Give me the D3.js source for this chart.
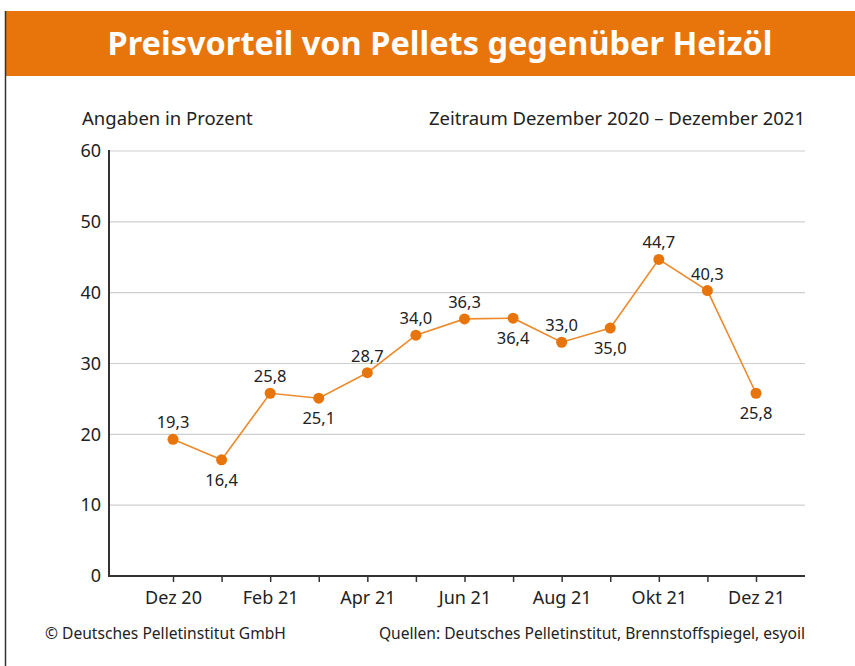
<!DOCTYPE html>
<meta charset="utf-8">
<style>
body { margin: 0; background: #fff; }
svg { display: block; font-family: "Noto Sans", "Open Sans", sans-serif; }
.grid line { stroke: #cfcfcf; stroke-width: 1.2; }
.lbl { font-size: 16.5px; fill: #222; }
</style>
<body>
<svg width="855" height="666"></svg>
<script src="https://d3js.org/d3.v7.min.js"></script>
<script>
// months and values (Preisvorteil in %)
const months = ["Dez 20", "Jan 21", "Feb 21", "Mär 21", "Apr 21", "Mai 21", "Jun 21",
                "Jul 21", "Aug 21", "Sep 21", "Okt 21", "Nov 21", "Dez 21"];
const values = [19.3, 16.4, 25.8, 25.1, 28.7, 34.0, 36.3, 36.4, 33.0, 35.0, 44.7, 40.3, 25.8];
const labelSide = ["up", "down", "up", "down", "up", "up", "up", "down", "up", "down", "up", "up", "down"];
const yTicks = [0, 10, 20, 30, 40, 50, 60];

const svg = d3.select("svg");

// header band + frame
svg.append("rect").attr("x", 5).attr("y", 11).attr("width", 850).attr("height", 65).attr("fill", "#e8740c");
svg.append("line").attr("x1", 5.5).attr("x2", 5.5).attr("y1", 11).attr("y2", 666).attr("stroke", "#333").attr("stroke-width", 1.5);
svg.append("text").attr("x", 440).attr("y", 55).attr("text-anchor", "middle")
  .attr("fill", "#fff").style("font-size", "32.5px").style("font-weight", "bold")
  .text("Preisvorteil von Pellets gegenüber Heizöl");

const x = d3.scaleLinear().domain([0, months.length - 1]).range([173, 756]);
const y = d3.scaleLinear().domain([0, 60]).range([576, 151]);
const left = 109, right = 805;

// grid
svg.append("g").attr("class", "grid").selectAll("line")
  .data(yTicks.filter(d => d > 0)).join("line")
  .attr("x1", left).attr("x2", right)
  .attr("y1", d => y(d)).attr("y2", d => y(d));

// y axis
const yAxis = svg.append("g").attr("transform", `translate(${left},0)`)
  .call(d3.axisLeft(y).tickValues(yTicks).tickSize(0).tickPadding(8));
yAxis.select(".domain").remove();
yAxis.selectAll("text").style("font-size", "18px").attr("fill", "#222").style("font-family", "Noto Sans");
svg.append("line").attr("x1", left).attr("x2", left).attr("y1", y(60) - 1).attr("y2", y(0))
  .attr("stroke", "#333").attr("stroke-width", 2);

// x axis
const xAxis = svg.append("g").attr("transform", `translate(0,${y(0)})`)
  .call(d3.axisBottom(x).tickValues(d3.range(months.length)).tickSize(6).tickPadding(9)
    .tickFormat((d, i) => i % 2 === 0 ? months[i] : ""));
xAxis.select(".domain").remove();
xAxis.selectAll(".tick line").attr("stroke", "#333").attr("stroke-width", 1.5);
xAxis.selectAll("text").style("font-size", "18px").attr("fill", "#222").style("font-family", "Noto Sans");
svg.append("line").attr("x1", left - 1).attr("x2", right).attr("y1", y(0)).attr("y2", y(0))
  .attr("stroke", "#333").attr("stroke-width", 2);

// line + points
svg.append("path").datum(values)
  .attr("fill", "none").attr("stroke", "#ec8a2c").attr("stroke-width", 1.6)
  .attr("d", d3.line().x((d, i) => x(i)).y(d => y(d)));
svg.selectAll("circle.pt").data(values).join("circle")
  .attr("class", "pt").attr("cx", (d, i) => x(i)).attr("cy", d => y(d))
  .attr("r", 5.5).attr("fill", "#e8740c");

const fmt = d => d.toFixed(1).replace(".", ",");
svg.selectAll("text.val").data(values).join("text")
  .attr("class", "val lbl").attr("text-anchor", "middle")
  .attr("x", (d, i) => x(i))
  .attr("y", (d, i) => labelSide[i] === "up" ? y(d) - 11 : y(d) + 26)
  .text(fmt);

// headings and footer
svg.append("text").attr("class", "lbl").attr("x", 82).attr("y", 125).style("font-size", "18.5px").text("Angaben in Prozent");
svg.append("text").attr("class", "lbl").attr("x", right).attr("y", 125).attr("text-anchor", "end")
  .style("font-size", "18.5px").text("Zeitraum Dezember 2020 – Dezember 2021");
svg.append("text").attr("class", "lbl").attr("x", 45).attr("y", 639).style("font-size", "15.6px")
  .text("© Deutsches Pelletinstitut GmbH");
svg.append("text").attr("class", "lbl").attr("x", right).attr("y", 639).attr("text-anchor", "end")
  .style("font-size", "15.6px").text("Quellen: Deutsches Pelletinstitut, Brennstoffspiegel, esyoil");
</script>
</body>
